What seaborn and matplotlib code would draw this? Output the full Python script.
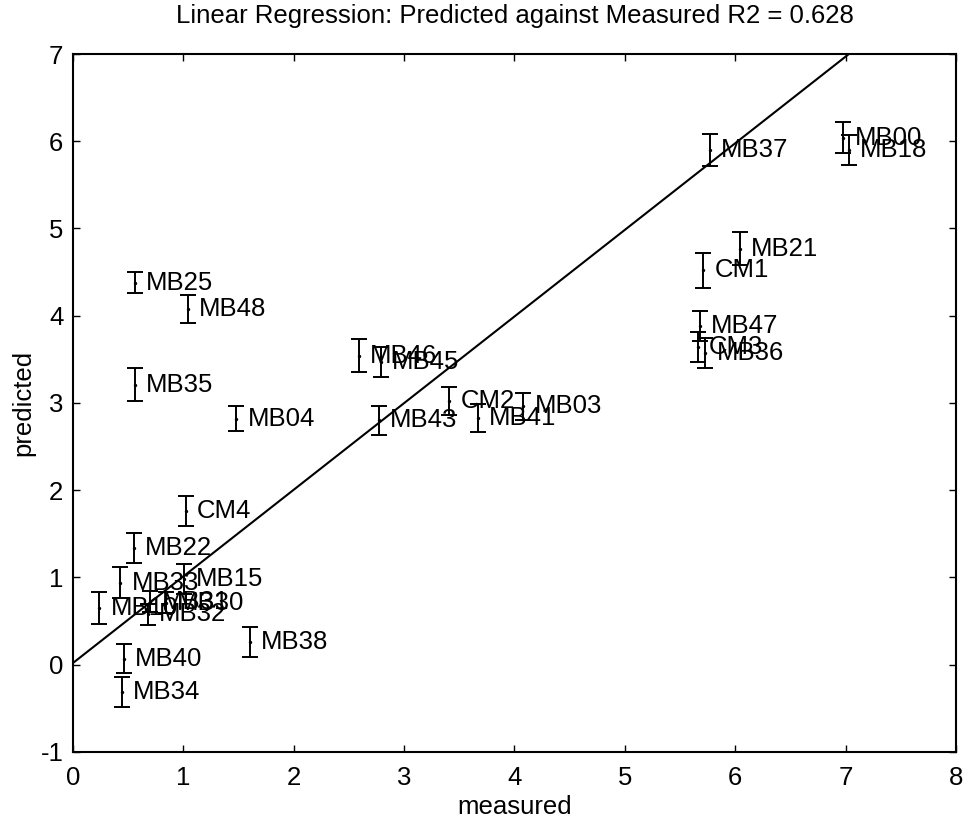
import matplotlib
matplotlib.use("Agg")
import matplotlib.pyplot as plt
import seaborn as sns
import pandas as pd

# ---- data ----
names = ["MB00", "MB18", "MB37", "MB21", "CM1", "MB47", "CM3", "MB36",
         "MB25", "MB48", "MB35", "MB04", "CM4", "MB22", "MB33", "MB15",
         "MB10", "MB31", "MB30", "MB32", "MB40", "MB34", "MB38",
         "MB46", "MB45", "MB43", "CM2", "MB41", "MB03"]
measured = [6.98, 7.03, 5.77, 6.04, 5.71, 5.68, 5.66, 5.73,
            0.56, 1.04, 0.56, 1.48, 1.02, 0.55, 0.43, 1.01,
            0.24, 0.70, 0.84, 0.68, 0.46, 0.44, 1.60,
            2.59, 2.79, 2.77, 3.41, 3.67, 4.08]
predicted = [6.04, 5.90, 5.90, 4.77, 4.52, 3.88, 3.64, 3.57,
             4.38, 4.08, 3.21, 2.82, 1.76, 1.34, 0.94, 0.98,
             0.65, 0.72, 0.71, 0.58, 0.07, -0.31, 0.26,
             3.54, 3.47, 2.80, 3.02, 2.83, 2.96]
errors = [0.18, 0.17, 0.18, 0.19, 0.20, 0.17, 0.17, 0.17,
          0.12, 0.16, 0.19, 0.14, 0.17, 0.17, 0.18, 0.17,
          0.18, 0.12, 0.12, 0.12, 0.17, 0.17, 0.17,
          0.19, 0.17, 0.17, 0.16, 0.16, 0.16]
fit_x = [0.0, 7.03]
fit_y = [0.02, 7.0]
x_ticks = [0, 1, 2, 3, 4, 5, 6, 7, 8]
y_ticks = [-1, 0, 1, 2, 3, 4, 5, 6, 7]
title = "Linear Regression: Predicted against Measured R2 = 0.628"

df = pd.DataFrame({"name": names, "measured": measured,
                   "predicted": predicted, "err": errors})
fit_df = pd.DataFrame({"x": fit_x, "y": fit_y})

# ---- style ----
sns.set_theme(style="ticks")
plt.rcParams["font.family"] = ["Liberation Sans", "DejaVu Sans"]
plt.rcParams["axes.unicode_minus"] = False
FS = 18.5

fig = plt.figure(figsize=(9.67, 8.22), dpi=100)
ax = fig.add_axes([0.0755, 0.0852, 0.9131, 0.8491])
ax.set_facecolor("white")
fig.patch.set_facecolor("white")

ax.errorbar(df["measured"], df["predicted"], yerr=df["err"], fmt="none",
            ecolor="black", elinewidth=1.4, capsize=6, capthick=1.4)
sns.scatterplot(data=df, x="measured", y="predicted", ax=ax, color="black",
                s=6, marker="o", edgecolor="black", linewidth=0, legend=False)
sns.lineplot(data=fit_df, x="x", y="y", ax=ax, color="black", linewidth=1.5)

for n, xv, yv in zip(df["name"], df["measured"], df["predicted"]):
    ax.annotate(n, (xv, yv), xytext=(8, 0), textcoords="offset points",
                ha="left", va="center", fontsize=FS, color="black")

ax.set_xlim(0, 8)
ax.set_ylim(-1, 7)
ax.set_xticks(x_ticks)
ax.set_yticks(y_ticks)
ax.tick_params(axis="x", direction="in", length=5, width=1.0, top=True,
               labelsize=FS, colors="black", pad=10)
ax.tick_params(axis="y", direction="in", length=5, width=1.0, right=True,
               labelsize=FS, colors="black", pad=7)
for s in ax.spines.values():
    s.set_visible(True)
    s.set_color("black")
    s.set_linewidth(1.5)

ax.set_xlabel("measured", fontsize=FS, color="black", labelpad=4)
ax.set_ylabel("predicted", fontsize=FS, color="black", labelpad=4)
ax.set_title(title, fontsize=FS, color="black", pad=22)

fig.savefig("out.png", dpi=100, facecolor="white")
